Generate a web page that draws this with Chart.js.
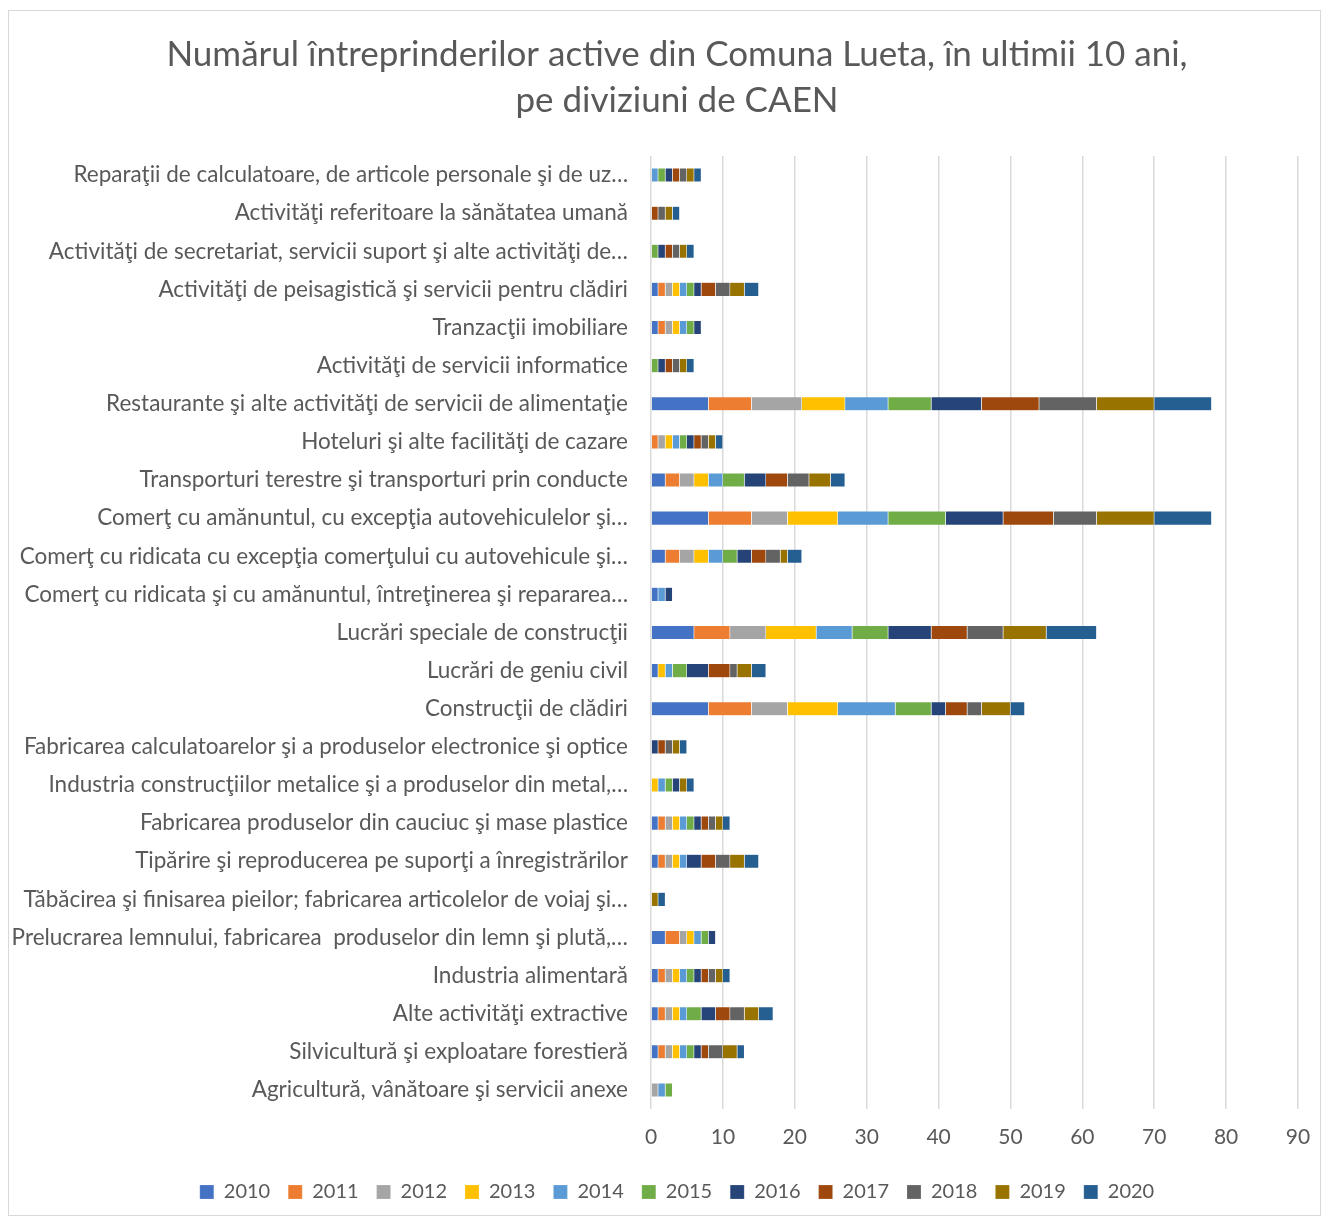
<!DOCTYPE html>
<html>
<head>
<meta charset="utf-8">
<script src="https://cdn.jsdelivr.net/npm/chart.js@4/dist/chart.umd.min.js"></script>
<style>
  html, body { margin: 0; padding: 0; background: #fff; }
  #wrap { width: 1330px; height: 1224px; position: relative; }
</style>
</head>
<body>
<div id="wrap"><canvas id="c" width="1330" height="1224"></canvas></div>
<script>
const categories = [
  "Reparaţii de calculatoare, de articole personale şi de uz…",
  "Activităţi referitoare la sănătatea umană",
  "Activităţi de secretariat, servicii suport şi alte activităţi de…",
  "Activităţi de peisagistică şi servicii pentru clădiri",
  "Tranzacţii imobiliare",
  "Activităţi de servicii informatice",
  "Restaurante şi alte activităţi de servicii de alimentaţie",
  "Hoteluri şi alte facilităţi de cazare",
  "Transporturi terestre şi transporturi prin conducte",
  "Comerţ cu amănuntul, cu excepţia autovehiculelor şi…",
  "Comerţ cu ridicata cu excepţia comerţului cu autovehicule şi…",
  "Comerţ cu ridicata şi cu amănuntul, întreţinerea şi repararea…",
  "Lucrări speciale de construcţii",
  "Lucrări de geniu civil",
  "Construcţii de clădiri",
  "Fabricarea calculatoarelor şi a produselor electronice şi optice",
  "Industria construcţiilor metalice şi a produselor din metal,…",
  "Fabricarea produselor din cauciuc şi mase plastice",
  "Tipărire şi reproducerea pe suporţi a înregistrărilor",
  "Tăbăcirea şi finisarea pieilor; fabricarea articolelor de voiaj şi…",
  "Prelucrarea lemnului, fabricarea  produselor din lemn şi plută,…",
  "Industria alimentară",
  "Alte activităţi extractive",
  "Silvicultură şi exploatare forestieră",
  "Agricultură, vânătoare şi servicii anexe"
];

const years = ["2010","2011","2012","2013","2014","2015","2016","2017","2018","2019","2020"];

// values per year, in category order (top to bottom)
const v2010 = [0,0,0,1,1,0,8,0,2,8,2,1,6,1,8,0,0,1,1,0,2,1,1,1,0];
const v2011 = [0,0,0,1,1,0,6,1,2,6,2,0,5,0,6,0,0,1,1,0,2,1,1,1,0];
const v2012 = [0,0,0,1,1,0,7,1,2,5,2,0,5,0,5,0,0,1,1,0,1,1,1,1,1];
const v2013 = [0,0,0,1,1,0,6,1,2,7,2,0,7,1,7,0,1,1,1,0,1,1,1,1,0];
const v2014 = [1,0,0,1,1,0,6,1,2,7,2,1,5,1,8,0,1,1,1,0,1,1,1,1,1];
const v2015 = [1,0,1,1,1,1,6,1,3,8,2,0,5,2,5,0,1,1,0,0,1,1,2,1,1];
const v2016 = [1,0,1,1,1,1,7,1,3,8,2,1,6,3,2,1,1,1,2,0,1,1,2,1,0];
const v2017 = [1,1,1,2,0,1,8,1,3,7,2,0,5,3,3,1,0,1,2,0,0,1,2,1,0];
const v2018 = [1,1,1,2,0,1,8,1,3,6,2,0,5,1,2,1,0,1,2,0,0,1,2,2,0];
const v2019 = [1,1,1,2,0,1,8,1,3,8,1,0,6,2,4,1,1,1,2,1,0,1,2,2,0];
const v2020 = [1,1,1,2,0,1,8,1,2,8,2,0,7,2,2,1,1,1,2,1,0,1,2,1,0];

const seriesValues = [v2010,v2011,v2012,v2013,v2014,v2015,v2016,v2017,v2018,v2019,v2020];
const colors = ["#4472C4","#ED7D31","#A5A5A5","#FFC000","#5B9BD5","#70AD47","#264478","#9E480E","#636363","#997300","#255E91"];

const xTicks = [0,10,20,30,40,50,60,70,80,90];

const FONT = "Lato, 'Open Sans', 'Liberation Sans', sans-serif";
const TXT = "#595959";
const PAD_LEFT = 56;
const PLOT_LEFT = 651;

const framePlugin = {
  id: 'frame',
  beforeDraw(chart) {
    const ctx = chart.ctx;
    ctx.save();
    ctx.fillStyle = '#fff';
    ctx.fillRect(0, 0, chart.width, chart.height);
    ctx.strokeStyle = '#d9d9d9';
    ctx.lineWidth = 1;
    ctx.strokeRect(8.5, 10.5, 1312, 1205);
    ctx.restore();
  }
};

// let the category labels use the space left of the layout padding
const labelSpacePlugin = {
  id: 'labelSpace',
  afterLayout(chart) {
    const y = chart.scales.y;
    y.left = 0;
  }
};

new Chart(document.getElementById('c'), {
  type: 'bar',
  data: {
    labels: categories,
    datasets: years.map((y, i) => ({
      label: y,
      data: seriesValues[i],
      backgroundColor: colors[i],
      borderColor: 'rgba(255,255,255,0.35)',
      borderWidth: 0.5,
      barPercentage: 0.37,
      categoryPercentage: 1.0
    }))
  },
  options: {
    indexAxis: 'y',
    responsive: false,
    animation: false,
    devicePixelRatio: 1,
    layout: { padding: { top: 22, right: 32, bottom: 12, left: PAD_LEFT } },
    plugins: {
      title: {
        display: true,
        text: ["Numărul întreprinderilor active din Comuna Lueta, în ultimii 10 ani,", "pe diviziuni de CAEN"],
        color: TXT,
        font: { family: FONT, size: 35, weight: 'normal', lineHeight: 1.3 },
        padding: { top: 10, bottom: 33 }
      },
      legend: {
        position: 'bottom',
        labels: {
          color: TXT,
          font: { family: FONT, size: 20 },
          boxWidth: 14,
          boxHeight: 14,
          padding: 18
        }
      },
      tooltip: { enabled: false }
    },
    scales: {
      x: {
        stacked: true,
        min: 0,
        max: 90,
        afterBuildTicks(scale) { scale.ticks = xTicks.map(v => ({ value: v })); },
        afterFit(scale) { scale.height = 55; },
        ticks: { color: TXT, font: { family: FONT, size: 21 }, padding: 16 },
        grid: { color: '#d9d9d9', lineWidth: 1.5, drawTicks: false },
        border: { display: false }
      },
      y: {
        stacked: true,
        afterFit(scale) { scale.width = PLOT_LEFT - PAD_LEFT; },
        ticks: { color: TXT, font: { family: FONT, size: 22.5 }, padding: 15, autoSkip: false },
        grid: { display: false },
        border: { display: false }
      }
    }
  },
  plugins: [framePlugin, labelSpacePlugin]
});
</script>
</body>
</html>
